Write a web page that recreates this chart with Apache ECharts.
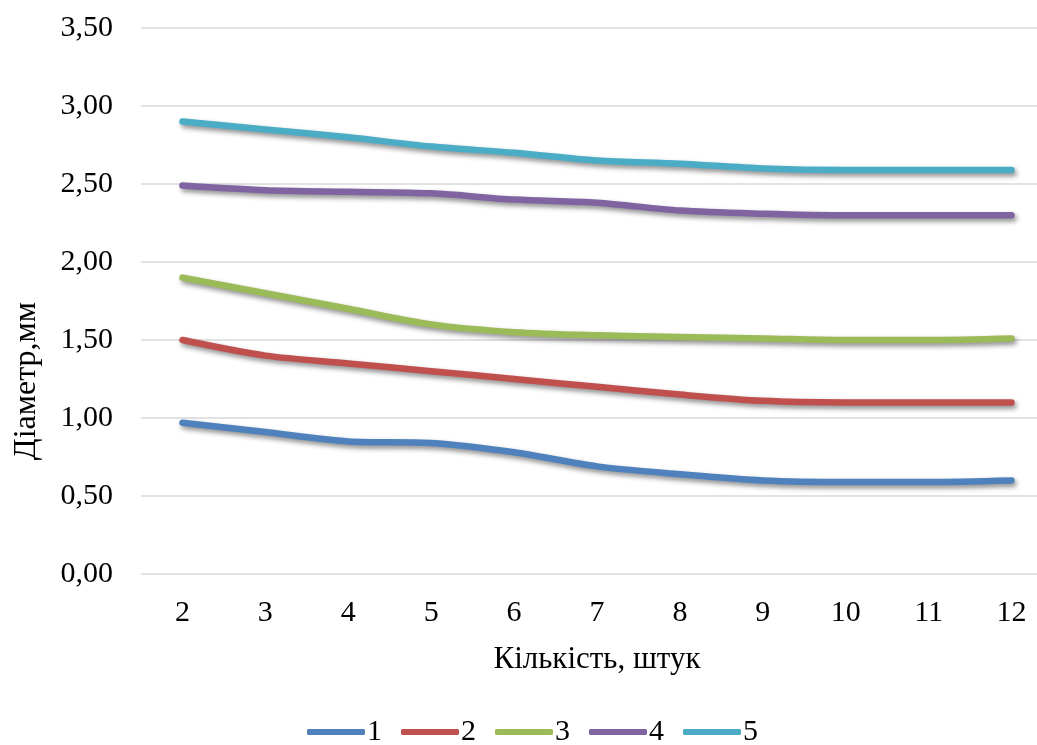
<!DOCTYPE html>
<html>
<head>
<meta charset="utf-8">
<script src="https://cdn.jsdelivr.net/npm/echarts@6/dist/echarts.min.js"></script>
<style>
html,body{margin:0;padding:0;background:#fff;}
#c{width:1037px;height:745px;}
</style>
</head>
<body>
<div id="c"></div>
<script>
const categories = ['2','3','4','5','6','7','8','9','10','11','12'];
const seriesNames = ['1','2','3','4','5'];
const s1 = [0.97, 0.91, 0.85, 0.84, 0.78, 0.69, 0.64, 0.60, 0.59, 0.59, 0.60];
const s2 = [1.50, 1.40, 1.35, 1.30, 1.25, 1.20, 1.15, 1.11, 1.10, 1.10, 1.10];
const s3 = [1.90, 1.80, 1.70, 1.60, 1.55, 1.53, 1.52, 1.51, 1.50, 1.50, 1.51];
const s4 = [2.49, 2.46, 2.45, 2.44, 2.40, 2.38, 2.33, 2.31, 2.30, 2.30, 2.30];
const s5 = [2.90, 2.85, 2.80, 2.74, 2.70, 2.65, 2.63, 2.60, 2.59, 2.59, 2.59];
const colors = ['#4F81BD', '#C0504D', '#9BBB59', '#8064A2', '#4BACC6'];
const yName = 'Діаметр,мм';
const xName = 'Кількість, штук';

const FONT = 'Liberation Serif, Times New Roman, serif';
const chart = echarts.init(document.getElementById('c'), null, {renderer: 'canvas'});
const allData = [s1, s2, s3, s4, s5];
chart.setOption({
  animation: false,
  backgroundColor: '#fff',
  color: colors,
  textStyle: {fontFamily: FONT},
  grid: {left: 141, width: 912, top: 28, bottom: 171, containLabel: false, outerBoundsMode: 'none'},
  legend: {
    data: seriesNames,
    left: 302, top: 712,
    icon: 'roundRect',
    itemWidth: 58, itemHeight: 6, itemGap: 19,
    textStyle: {fontFamily: FONT, fontSize: 30, color: '#000', padding: [0,0,0,-3]}
  },
  xAxis: {
    type: 'category',
    data: categories,
    boundaryGap: true,
    axisLine: {show: false},
    axisTick: {show: false},
    axisLabel: {fontFamily: FONT, fontSize: 30, color: '#000', margin: 24},
    name: xName,
    nameLocation: 'middle',
    nameGap: 70,
    nameTextStyle: {fontFamily: FONT, fontSize: 31, color: '#000'}
  },
  yAxis: {
    type: 'value',
    min: 0, max: 3.5, interval: 0.5,
    axisLine: {show: false},
    axisTick: {show: false},
    splitLine: {lineStyle: {color: '#d9d9d9', width: 1.5}},
    axisLabel: {fontFamily: FONT, fontSize: 30, color: '#000', margin: 28,
      formatter: v => v.toFixed(2).replace('.', ',')}
  },
  graphic: [{
    type: 'text',
    x: 27, y: 381,
    rotation: Math.PI / 2,
    style: {text: yName, font: '32px ' + FONT, fill: '#000', textAlign: 'center', textVerticalAlign: 'middle'}
  }],
  series: allData.map((d, i) => ({
    name: seriesNames[i],
    type: 'line',
    data: d,
    smooth: 0.3,
    symbol: 'none',
    lineStyle: {width: 6.5, cap: 'round', join: 'round', color: colors[i],
      shadowColor: 'rgba(0,0,0,0.45)', shadowBlur: 5, shadowOffsetX: 2, shadowOffsetY: 3}
  }))
});
</script>
</body>
</html>
